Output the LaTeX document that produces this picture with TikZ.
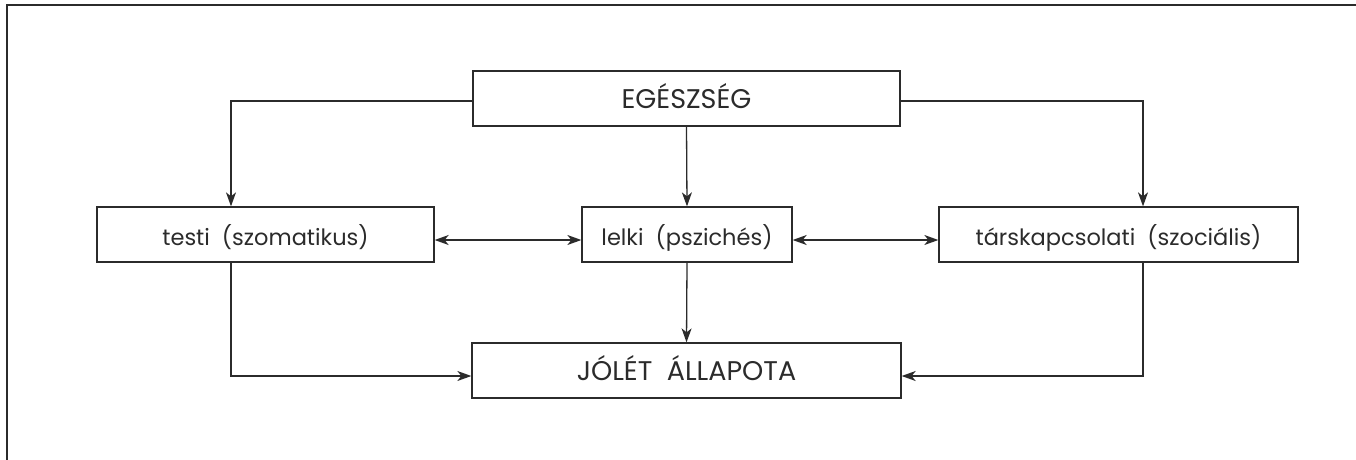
\documentclass[tikz,border=0pt]{standalone}
\usepackage{fontspec}
\setmainfont{Poppins}
\usetikzlibrary{arrows.meta}
\definecolor{ink}{HTML}{2B2B2B}
\tikzset{
  box/.style={draw=ink, line width=1.3pt, minimum height=55pt, inner sep=0pt, text=ink, font=\fontsize{22.5}{25}\selectfont, text height=21pt, text depth=0pt},
  capsbox/.style={box, font=\fontsize{27}{30}\selectfont, text height=19pt, text depth=0pt},
  arr/.style={draw=ink, line width=1.3pt, -{Stealth[length=14pt,width=10pt,inset=4pt]}},
  darr/.style={draw=ink, line width=1.3pt, {Stealth[length=14pt,width=10pt,inset=4pt]}-{Stealth[length=14pt,width=10pt,inset=4pt]}},
  frame/.style={draw=ink, line width=2.5pt}
}
\begin{document}
\begin{tikzpicture}[x=1pt,y=1pt]
\useasboundingbox (0,0) rectangle (1356,-459);
\coordinate (fb) at (7,-460);
\coordinate (ftl) at (7,-5);
\coordinate (ftr) at (1357,-5);
\draw[frame] (fb) -- (ftl) -- (ftr);
\node[capsbox, minimum width=427pt] (E) at (686.5,-98.5) {EGÉSZSÉG};
\node[box, minimum width=337pt] (T) at (265.5,-234.5) {testi\ \ (szomatikus)};
\node[box, minimum width=210pt] (L) at (687,-234.5) {lelki\ \ (pszichés)};
\node[box, minimum width=359pt] (S) at (1118.5,-234.5) {társkapcsolati\ \ (szociális)};
\node[capsbox, minimum width=429pt] (J) at (686.5,-370.5) {JÓLÉT\ \ ÁLLAPOTA};
\draw[arr] ([yshift=-2.5pt]E.west) -| ([xshift=-34.5pt]T.north);
\draw[arr] ([yshift=-2.5pt]E.east) -| ([xshift=24.5pt]S.north);
\draw[arr] (E.south) -- (L.north);
\draw[darr] ([yshift=-5.5pt]T.east) -- ([yshift=-5.5pt]L.west);
\draw[darr] ([yshift=-5.5pt]L.east) -- ([yshift=-5.5pt]S.west);
\draw[arr] (L.south) -- (J.north);
\draw[arr] ([xshift=-34.5pt]T.south) |- ([yshift=-5.5pt]J.west);
\draw[arr] ([xshift=24.5pt]S.south) |- ([yshift=-5.5pt]J.east);
\end{tikzpicture}
\end{document}
